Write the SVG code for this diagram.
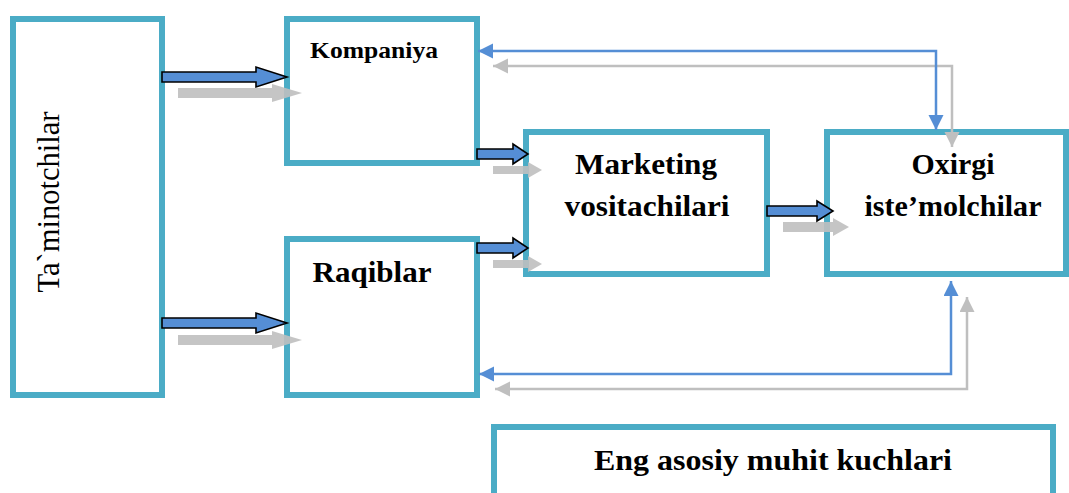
<svg xmlns="http://www.w3.org/2000/svg" width="1069" height="493" viewBox="0 0 1069 493">
  <style>
    .box { fill: #ffffff; stroke: #4bacc6; stroke-width: 6; }
    .lbl { font-family: 'Liberation Serif', 'DejaVu Serif', 'Noto Serif', serif; fill: #000000; text-anchor: middle; }
    .b { font-weight: bold; }
    .blk { fill: #558ed5; stroke: #000000; stroke-width: 1.6; stroke-linejoin: miter; }
    .gry { fill: #bfbfbf; opacity: 0.9; }
    .fb { fill: none; stroke: #558ed5; stroke-width: 2.5; }
    .fg { fill: none; stroke: #bfbfbf; stroke-width: 2.5; }
  </style>
  <defs>
    <marker id="headBlue" markerUnits="userSpaceOnUse" markerWidth="16" markerHeight="16" refX="15" refY="7.5" orient="auto-start-reverse">
      <path d="M0,0 L15,7.5 L0,15 z" fill="#558ed5"/>
    </marker>
    <marker id="headGray" markerUnits="userSpaceOnUse" markerWidth="16" markerHeight="16" refX="15" refY="7.5" orient="auto-start-reverse">
      <path d="M0,0 L15,7.5 L0,15 z" fill="#bfbfbf"/>
    </marker>
  </defs>

  <g id="suppliers">
    <rect class="box" x="13" y="19" width="149" height="376"/>
    <text class="lbl" font-size="32" transform="translate(59,202) rotate(-90)" textLength="181" lengthAdjust="spacingAndGlyphs">Ta`minotchilar</text>
  </g>

  <g id="company">
    <rect class="box" x="287" y="19" width="190" height="144"/>
    <text class="lbl b" x="374" y="58" font-size="24" textLength="128" lengthAdjust="spacingAndGlyphs">Kompaniya</text>
  </g>

  <g id="competitors">
    <rect class="box" x="287" y="239" width="190" height="156"/>
    <text class="lbl b" x="372" y="282" font-size="30" textLength="119" lengthAdjust="spacingAndGlyphs">Raqiblar</text>
  </g>

  <g id="intermediaries">
    <rect class="box" x="526" y="132" width="241" height="142"/>
    <text class="lbl b" x="646" y="174" font-size="30" textLength="142" lengthAdjust="spacingAndGlyphs">Marketing</text>
    <text class="lbl b" x="647" y="216" font-size="30" textLength="165" lengthAdjust="spacingAndGlyphs">vositachilari</text>
  </g>

  <g id="consumers">
    <rect class="box" x="827" y="132" width="239" height="142"/>
    <text class="lbl b" x="953" y="174" font-size="30" textLength="83" lengthAdjust="spacingAndGlyphs">Oxirgi</text>
    <text class="lbl b" x="953" y="216" font-size="30" textLength="177" lengthAdjust="spacingAndGlyphs">iste’molchilar</text>
  </g>

  <g id="environment">
    <rect class="box" x="494" y="427" width="559" height="80"/>
    <text class="lbl b" x="773" y="470" font-size="30" textLength="358" lengthAdjust="spacingAndGlyphs">Eng asosiy muhit kuchlari</text>
  </g>

  <g id="connectors">
    <!-- supply flows into company and competitors -->
    <polygon class="gry" points="178,88 272,88 272,84 302,93 272,102 272,98 178,98"/>
    <polygon class="blk" points="162,72 256,72 256,67 287,77 256,87 256,82 162,82"/>
    <polygon class="gry" points="178,335 272,335 272,331 302,340 272,349 272,345 178,345"/>
    <polygon class="blk" points="162,318 256,318 256,313 287,323 256,333 256,328 162,328"/>

    <!-- company and competitors into intermediaries -->
    <polygon class="gry" points="493,166 528,166 528,162 542,170 528,178 528,174 493,174"/>
    <polygon class="blk" points="477,149 513,149 513,144 528,154 513,164 513,159 477,159"/>
    <polygon class="gry" points="493,260 528,260 528,256 542,264 528,272 528,268 493,268"/>
    <polygon class="blk" points="477,243 513,243 513,238 528,248 513,258 513,253 477,253"/>

    <!-- intermediaries into consumers -->
    <polygon class="gry" points="783,222 833,222 833,218 849,227 833,236 833,232 783,232"/>
    <polygon class="blk" points="767,206 817,206 817,201 833,211 817,221 817,216 767,216"/>

    <!-- feedback loops between consumers and company / competitors -->
    <path class="fg" d="M493,66 H952 V147" marker-start="url(#headGray)" marker-end="url(#headGray)"/>
    <path class="fb" d="M478,51 H936 V130" marker-start="url(#headBlue)" marker-end="url(#headBlue)"/>
    <path class="fg" d="M495,389 H967 V297" marker-start="url(#headGray)" marker-end="url(#headGray)"/>
    <path class="fb" d="M479,374 H951 V281" marker-start="url(#headBlue)" marker-end="url(#headBlue)"/>
  </g>
</svg>
